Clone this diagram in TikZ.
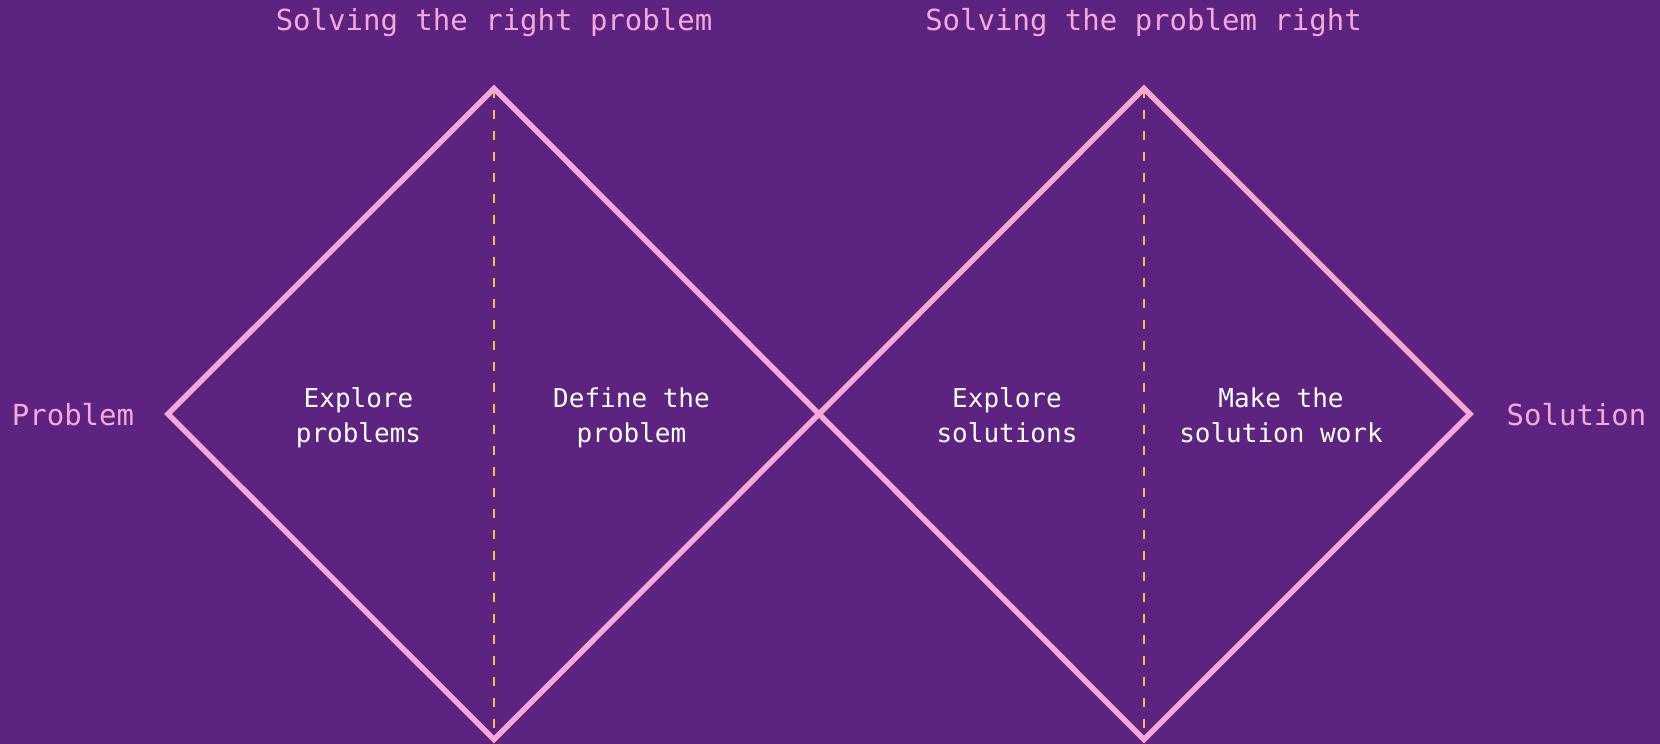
\documentclass[tikz,border=0pt]{standalone}
\usepackage{fontspec}
\setmonofont{DejaVu Sans Mono}
\definecolor{bg}{RGB}{92,35,128}
\definecolor{pinkline}{RGB}{246,168,214}
\definecolor{dashy}{RGB}{245,193,66}
\tikzset{
  diamondline/.style={draw=pinkline, line width=5.5pt, line join=miter},
  splitline/.style={draw=dashy, line width=2pt, dash pattern=on 9pt off 12pt},
  headlabel/.style={text=pinkline, font=\ttfamily\fontsize{29}{35}\selectfont, anchor=base, inner sep=0pt},
  phaselabel/.style={text=white, font=\ttfamily\fontsize{26}{35}\selectfont, align=center, anchor=center, inner sep=0pt},
}
\begin{document}
\begin{tikzpicture}[x=1pt,y=-1pt]
\fill[bg] (0,0) rectangle (1660,744);
\useasboundingbox (0,0) rectangle (1660,744);
\coordinate (L) at (168,414);
\coordinate (T1) at (494,88.5);
\coordinate (B1) at (494,739.5);
\coordinate (C) at (819,414);
\coordinate (T2) at (1144,88.5);
\coordinate (B2) at (1144,739.5);
\coordinate (R) at (1470,414);
\draw[splitline] (T1) -- (B1);
\draw[splitline] (T2) -- (B2);
\draw[diamondline] (L) -- (T1) -- (C) -- (B1) -- cycle;
\draw[diamondline] (C) -- (T2) -- (R) -- (B2) -- cycle;
\node[headlabel] (h1) at (494,30) {Solving the right problem};
\node[headlabel] (h2) at (1143.5,30) {Solving the problem right};
\node[headlabel] (start) at (73,425) {Problem};
\node[headlabel] (end) at (1576.5,425) {Solution};
\node[phaselabel] (p1) at (358.5,417.5) {Explore\\problems};
\node[phaselabel] (p2) at (631.5,417.5) {Define the\\problem};
\node[phaselabel] (p3) at (1007,415.5) {Explore\\solutions};
\node[phaselabel] (p4) at (1281,415.5) {Make the\\solution work};
\end{tikzpicture}
\end{document}
